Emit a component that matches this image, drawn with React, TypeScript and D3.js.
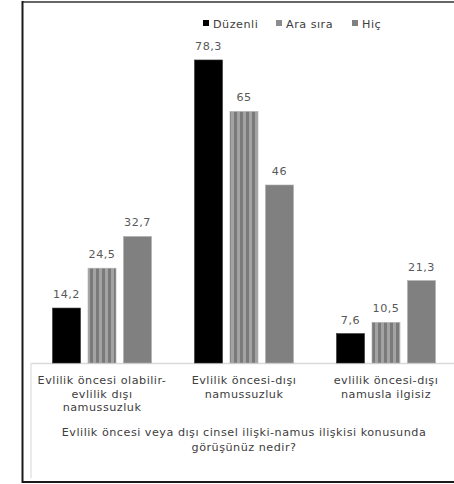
import React from "react";
import * as d3 from "d3";

const categories = ["c1", "c2", "c3"];
const categoryLines = [
  ["Evlilik öncesi olabilir-", "evlilik dışı", "namussuzluk"],
  ["Evlilik öncesi-dışı", "namussuzluk"],
  ["evlilik öncesi-dışı", "namusla ilgisiz"],
];
const series = ["Düzenli", "Ara sıra", "Hiç"];
const duzenli = [14.2, 78.3, 7.6];
const araSira = [24.5, 65, 10.5];
const hic = [32.7, 46, 21.3];
const valueLabels = [
  ["14,2", "78,3", "7,6"],
  ["24,5", "65", "10,5"],
  ["32,7", "46", "21,3"],
];
const axisTitle = ["Evlilik öncesi veya dışı cinsel ilişki-namus ilişkisi konusunda", "görüşünüz nedir?"];

const W = 454;
const H = 484;
const FONT = "'DejaVu Sans', sans-serif";
const FS = 11.2;
const LS = 0.5;

export default function App() {
  const values = [duzenli, araSira, hic];
  const fills = ["#000000", "url(#stripes)", "#808080"];
  const x0 = d3.scaleBand<string>().domain(categories).range([31, 457]).padding(0);
  const x1 = d3
    .scaleBand<string>()
    .domain(series)
    .range([21.5, 120.5])
    .paddingInner(0.211)
    .paddingOuter(0);
  const y = d3.scaleLinear().domain([0, 90]).range([363, 14.7]);

  const legendX = [203, 276, 352];

  return (
    <svg
      width={W}
      height={H}
      style={{ position: "absolute", left: 0, top: 0, background: "#fff" }}
      fontFamily={FONT}
      letterSpacing={LS}
    >
      <defs>
        <pattern id="stripes" patternUnits="userSpaceOnUse" width={6} height={6}>
          <rect x={0} y={0} width={3} height={6} fill="#7a7a7a" />
          <rect x={3} y={0} width={3} height={6} fill="#a3a3a3" />
        </pattern>
      </defs>
      <rect x={0} y={0} width={W} height={H} fill="#fff" />
      {/* frame */}
      <line x1={22} x2={W} y1={2} y2={2} stroke="#666" strokeWidth={2} />
      <line x1={22.5} x2={22.5} y1={1} y2={483} stroke="#1a1a1a" strokeWidth={2} />
      <line x1={22} x2={W} y1={482} y2={482} stroke="#1a1a1a" strokeWidth={2} />

      {/* axis lines */}
      <line x1={31} x2={W} y1={363.5} y2={363.5} stroke="#d9d9d9" strokeWidth={1.5} />
      <line x1={31} x2={31} y1={363} y2={478} stroke="#e3e3e3" strokeWidth={1.5} />

      {/* legend */}
      {series.map((s, i) => (
        <g key={s}>
          <rect
            x={legendX[i]}
            y={20}
            width={6}
            height={6}
            fill={fills[i] === "url(#stripes)" ? "#8c8c8c" : fills[i]}
          />
          <text x={legendX[i] + 10} y={27.5} fontSize={FS} fill="#404040">
            {s}
          </text>
        </g>
      ))}

      {/* bars */}
      {series.map((s, si) =>
        categories.map((c, ci) => {
          const v = values[si][ci];
          const bx = (x0(c) as number) + (x1(s) as number);
          const bw = x1.bandwidth();
          return (
            <g key={s + c}>
              <rect
                x={bx}
                y={y(v)}
                width={bw}
                height={y(0) - y(v)}
                fill={fills[si]}
                stroke={si === 0 ? "#333" : "#b0b0b0"}
                strokeWidth={0.6}
              />
              <text
                x={bx + bw / 2}
                y={y(v) - 10}
                textAnchor="middle"
                fontSize={FS}
                fill="#595959"
              >
                {valueLabels[si][ci]}
              </text>
            </g>
          );
        })
      )}

      {/* category labels */}
      {categories.map((c, ci) => (
        <text
          key={c}
          x={(x0(c) as number) + x0.bandwidth() / 2}
          y={384}
          textAnchor="middle"
          fontSize={FS}
          fill="#404040"
        >
          {categoryLines[ci].map((ln, li) => (
            <tspan key={li} x={(x0(c) as number) + x0.bandwidth() / 2} dy={li === 0 ? 0 : 13.6}>
              {ln}
            </tspan>
          ))}
        </text>
      ))}

      {/* axis title */}
      <text x={244} y={436} textAnchor="middle" fontSize={FS} fill="#404040">
        {axisTitle.map((ln, li) => (
          <tspan key={li} x={244} dy={li === 0 ? 0 : 14.5}>
            {ln}
          </tspan>
        ))}
      </text>
    </svg>
  );
}
